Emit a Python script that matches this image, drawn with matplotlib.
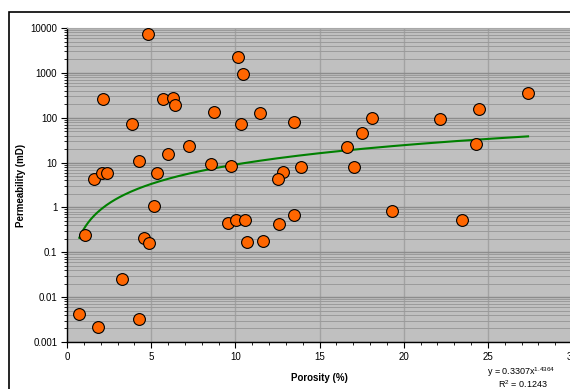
import numpy as np
import matplotlib.pyplot as plt
from matplotlib.patches import Rectangle
from matplotlib.ticker import LogLocator, MultipleLocator, FixedLocator, NullFormatter

plt.rcParams['font.family'] = ['Liberation Sans', 'DejaVu Sans']
plt.rcParams['mathtext.default'] = 'regular'

# core plug data
porosity = [4.80, 2.13, 5.73, 6.27, 6.44, 3.85, 4.29, 5.35, 5.99, 7.25,
            1.58, 2.07, 2.37, 5.14, 1.08, 4.56, 4.90, 3.28, 0.73, 1.86,
            4.27, 10.16, 10.45, 8.75, 10.35, 11.44, 13.46, 8.54, 9.74, 12.84,
            12.53, 13.93, 16.62, 17.03, 17.53, 18.10, 22.17, 24.50, 27.39, 24.29,
            9.54, 10.04, 10.57, 10.67, 11.64, 12.61, 13.46, 19.28, 23.49]
perm = [7470, 266, 262, 270, 193, 71, 10.9, 5.9, 15.3, 23.6,
        4.25, 5.9, 5.8, 1.06, 0.237, 0.206, 0.165, 0.0257, 0.0042, 0.00215,
        0.0032, 2260, 927, 135, 74, 125, 79, 9.2, 8.4, 6.3,
        4.25, 8.15, 21.9, 8.15, 45, 100, 95.5, 157, 349, 26.5,
        0.445, 0.519, 0.519, 0.171, 0.183, 0.438, 0.67, 0.853, 0.538]

# power-law trend coefficients
coef_a = 0.3307
coef_b = 1.4364
r2 = 0.1243

y_ticks = [0.001, 0.01, 0.1, 1, 10, 100, 1000, 10000]
y_labels = ['0.001', '0.01', '0.1', '1', '10', '100', '1000', '10000']

fig = plt.figure(figsize=(5.7, 3.89), dpi=100)
W, H = 570, 389

# outer chart border
fig.add_artist(Rectangle((9 / W, -0.1), 1.2, 1 - 12 / H + 0.1, transform=fig.transFigure,
                         fill=False, lw=1.2, ec='black'))

ax = fig.add_axes([67 / W, 1 - 342 / H, 505 / W, 314 / H])
ax.set_facecolor('#c0c0c0')
ax.set_yscale('log')
ax.set_xlim(0, 30)
ax.set_ylim(0.001, 10000)

ax.yaxis.set_major_locator(FixedLocator(y_ticks))
ax.set_yticklabels(y_labels)
ax.yaxis.set_minor_locator(LogLocator(base=10, subs=np.arange(2, 10), numticks=20))
ax.yaxis.set_minor_formatter(NullFormatter())
ax.xaxis.set_major_locator(MultipleLocator(5))
ax.xaxis.set_minor_locator(MultipleLocator(1))

ax.grid(which='major', axis='y', color='#8c8c8c', lw=1.0)
ax.grid(which='minor', axis='y', color='#9a9a9a', lw=0.7)
ax.grid(which='major', axis='x', color='#a2a2a2', lw=1.0)
ax.set_axisbelow(True)

for s in ['top', 'right']:
    ax.spines[s].set_color('#a8a8a8')
for s in ['left', 'bottom']:
    ax.spines[s].set_color('black')
    ax.spines[s].set_linewidth(1.0)

ax.tick_params(which='major', direction='out', length=4, width=0.8, labelsize=7, pad=3)
ax.tick_params(which='minor', direction='out', length=2.5, width=0.6)

# trend line
xt = np.linspace(min(porosity), max(porosity), 200)
ax.plot(xt, coef_a * xt ** coef_b, color='#008000', lw=1.5, zorder=3)

ax.plot(porosity, perm, 'o', color='#ff6600', mec='black', mew=0.8, ms=8.5, zorder=4)

ax.set_xlabel('Porosity (%)', fontsize=7, fontweight='bold', labelpad=8)
ax.set_ylabel('Permeability (mD)', fontsize=7, fontweight='bold', labelpad=3)

fig.text(521 / W, 1 - 372 / H, 'y = %.4fx$^{%.4f}$' % (coef_a, coef_b),
         fontsize=6.5, ha='center', va='center')
fig.text(523 / W, 1 - 384 / H, 'R$^{2}$ = %.4f' % r2,
         fontsize=6.5, ha='center', va='center')

fig.savefig('out.png', dpi=100)
